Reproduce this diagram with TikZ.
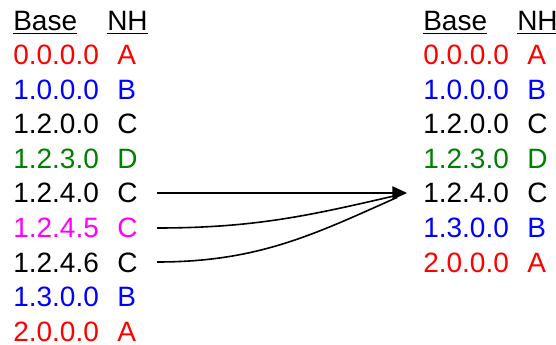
\documentclass[tikz,border=0pt]{standalone}
\usepackage{fontspec}
\setmainfont{Liberation Sans}
\usetikzlibrary{arrows.meta}
\definecolor{cred}{RGB}{255,0,0}
\definecolor{cblue}{RGB}{0,0,255}
\definecolor{cgreen}{RGB}{0,128,0}
\definecolor{cmag}{RGB}{255,0,255}
\begin{document}
\begin{tikzpicture}[x=0.75pt,y=-0.75pt,
  txt/.style={anchor=base west,inner sep=0pt,font=\fontsize{21pt}{24pt}\selectfont},
  conn/.style={line width=1.2pt},
  tip/.style={-{Triangle[length=11pt,width=10pt]}}]
\useasboundingbox (0,0) rectangle (556,345);
% headers
\node[txt] (lhb) at (13,31) {\underline{Base}};
\node[txt] (lhn) at (107,31) {\underline{NH}};
\node[txt] (rhb) at (423,31) {\underline{Base}};
\node[txt] (rhn) at (517,31) {\underline{NH}};
% left table
\foreach \i/\b/\n/\c in {1/0.0.0.0/A/cred,2/1.0.0.0/B/cblue,3/1.2.0.0/C/black,4/1.2.3.0/D/cgreen,5/1.2.4.0/C/black,6/1.2.4.5/C/cmag,7/1.2.4.6/C/black,8/1.3.0.0/B/cblue,9/2.0.0.0/A/cred}{
  \node[txt,text=\c] (lb\i) at (13,{65+34.5*(\i-1)}) {\b};
  \node[txt,text=\c] (ln\i) at (117,{65+34.5*(\i-1)}) {\n};
}
% right table
\foreach \i/\b/\n/\c in {1/0.0.0.0/A/cred,2/1.0.0.0/B/cblue,3/1.2.0.0/C/black,4/1.2.3.0/D/cgreen,5/1.2.4.0/C/black,6/1.3.0.0/B/cblue,7/2.0.0.0/A/cred}{
  \node[txt,text=\c] (rb\i) at (423,{65+34.5*(\i-1)}) {\b};
  \node[txt,text=\c] (rn\i) at (527,{65+34.5*(\i-1)}) {\n};
}
% connectors
\coordinate (s5) at (157,193);
\coordinate (s6) at (157,228);
\coordinate (s7) at (157,262);
\coordinate (t) at (407,193);
\draw[conn,tip] (s5) -- (t);
\draw[conn,shorten >=8pt] (s6) to[out=0,in=193] (t);
\draw[conn,shorten >=8pt] (s7) to[out=0,in=204] (t);
\end{tikzpicture}
\end{document}
